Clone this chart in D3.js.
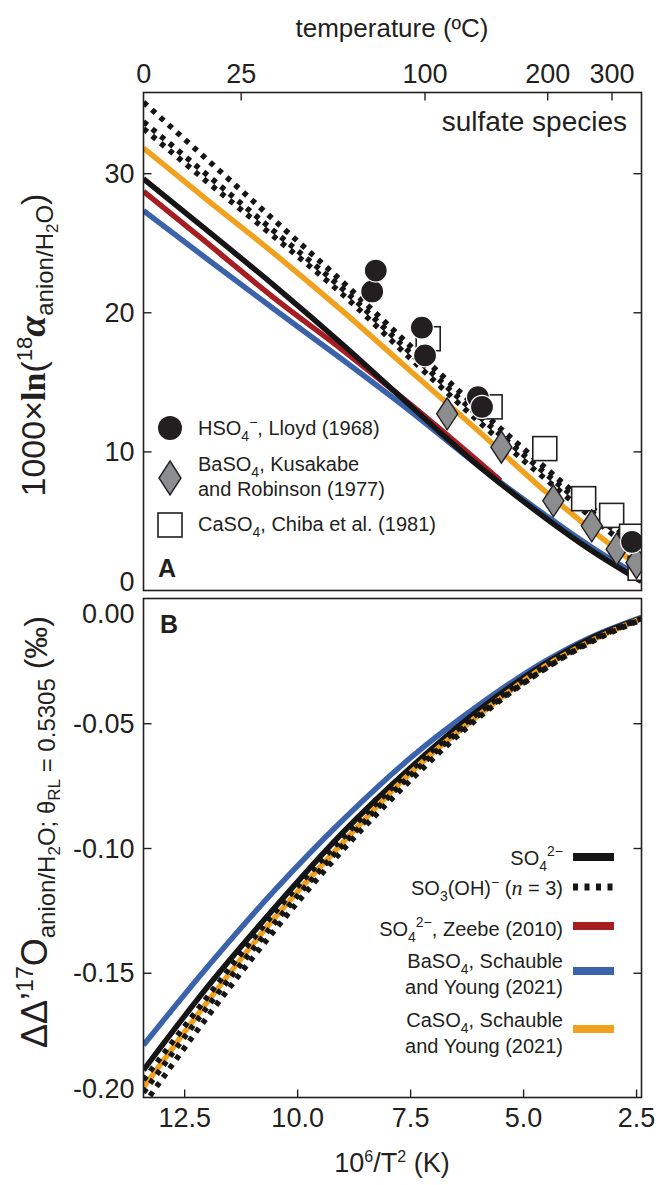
<!DOCTYPE html>
<html>
<head>
<meta charset="utf-8">
<script src="https://cdn.jsdelivr.net/npm/d3@7"></script>
<style>
  body { margin: 0; background: #fff; }
  svg { display: block; }
  text { font-family: "Liberation Sans", Arial, Helvetica, sans-serif; fill: #231f20; }
</style>
</head>
<body>
<svg id="chart" width="659" height="1185"></svg>
<script>
// x positions (10^6/T^2, K) at which the model curves are tabulated
const xGrid = [13.40, 12.0, 10.5, 9.0, 7.5, 6.0, 4.5, 3.5, 2.38];

// Panel A: 1000 ln(18-alpha anion/H2O)
const so4A      = [29.6, 25.9, 21.9, 17.7, 13.3, 9.0, 5.2, 2.9, 0.65];
const zeebeA    = [28.7, 25.0, 21.0, 17.3, 13.4, 9.3, 7.9];
const zeebeX    = [13.40, 12.0, 10.5, 9.0, 7.5, 6.0, 5.5];
const baso4A    = [27.3, 23.85, 20.2, 16.6, 12.9, 9.0, 5.4, 3.15, 0.95];
const caso4A    = [31.8, 28.1, 24.2, 20.1, 15.8, 11.5, 7.1, 4.4, 1.6];
const so3ohA1   = [35.1, 31.0, 26.6, 22.2, 17.6, 13.1, 8.8, 6.0, 3.0];
const so3ohA2   = [33.7, 29.9, 25.8, 21.7, 17.1, 12.6, 8.4, 5.7, 2.7];
const so3ohA3   = [33.2, 29.4, 25.4, 21.3, 16.7, 12.2, 8.0, 5.3, 2.4];

// Panel B: Delta'17O anion/H2O
const so4B      = [-0.189, -0.156, -0.124, -0.094, -0.068, -0.045, -0.026, -0.016, -0.008];
const baso4B    = [-0.179, -0.148, -0.117, -0.089, -0.064, -0.043, -0.025, -0.0155, -0.0075];
const caso4B    = [-0.196, -0.162, -0.128, -0.098, -0.070, -0.047, -0.027, -0.017, -0.008];
const so3ohB1   = [-0.193, -0.160, -0.126, -0.096, -0.069, -0.046, -0.027, -0.0165, -0.008];
const so3ohB2   = [-0.198, -0.164, -0.130, -0.099, -0.071, -0.047, -0.028, -0.017, -0.0083];
const so3ohB3   = [-0.203, -0.168, -0.133, -0.101, -0.073, -0.048, -0.028, -0.0175, -0.0085];

// Experimental calibrations (x = 10^6/T^2)
const lloydX    = [8.34, 8.26, 7.24, 7.17, 6.00, 5.91, 2.59];
const lloydY    = [21.5, 23.0, 18.9, 16.9, 13.9, 13.2, 3.5];
const kusakabeX = [6.68, 5.48, 4.33, 3.48, 2.93, 2.49];
const kusakabeY = [12.7, 10.3, 6.45, 4.65, 2.97, 2.0];
const chibaX    = [7.10, 5.73, 4.52, 3.66, 3.04, 2.60, 2.41];
const chibaY    = [18.1, 13.2, 10.2, 6.6, 5.4, 3.9, 1.6];

// Axis ticks
const tempTicks = [0, 25, 100, 200, 300];
const xTicks    = [12.5, 10.0, 7.5, 5.0, 2.5];
const yTicksA   = [0, 10, 20, 30];
const yTicksB   = [0, -0.05, -0.10, -0.15, -0.20];

const C = { black: "#151515", red: "#a61e22", blue: "#3a63ac", orange: "#f0a21f", ink: "#231f20", grey: "#8b8d8f" };
const SERIF = "'Liberation Serif', 'Times New Roman', serif";

const svg = d3.select("#chart");
const L = 143.5, R = 641.5;
const A = { top: 92.5, bottom: 590.5 };
const B = { top: 598.5, bottom: 1097.5 };

const x  = d3.scaleLinear().domain([13.40, 2.38]).range([L, R]);
const yA = d3.scaleLinear().domain([0, 35.8]).range([A.bottom, A.top]);
const yB = d3.scaleLinear().domain([-0.20, 0]).range([B.bottom, B.top]);

const defs = svg.append("defs");
defs.append("clipPath").attr("id", "clipA").append("rect")
  .attr("x", L).attr("y", A.top).attr("width", R - L).attr("height", A.bottom - A.top);
defs.append("clipPath").attr("id", "clipB").append("rect")
  .attr("x", L).attr("y", B.top).attr("width", R - L).attr("height", B.bottom - B.top);

function series(xs, ys) { return xs.map((v, i) => [v, ys[i]]); }

function drawCurve(g, y, xs, ys, color, dotted) {
  const line = d3.line().x(d => x(d[0])).y(d => y(d[1])).curve(d3.curveMonotoneX);
  g.append("path").datum(series(xs, ys))
    .attr("d", line)
    .attr("fill", "none")
    .attr("stroke", color)
    .attr("stroke-width", 5.5)
    .attr("stroke-dasharray", dotted ? "5 6.2" : null)
    .attr("stroke-linecap", "butt");
}

// ---------- Panel A ----------
const gA = svg.append("g").attr("clip-path", "url(#clipA)");
drawCurve(gA, yA, xGrid, baso4A, C.blue);
drawCurve(gA, yA, zeebeX, zeebeA, C.red);
drawCurve(gA, yA, xGrid, so4A, C.black);
drawCurve(gA, yA, xGrid, caso4A, C.orange);
drawCurve(gA, yA, xGrid, so3ohA1, C.black, true);
drawCurve(gA, yA, xGrid, so3ohA2, C.black, true);
drawCurve(gA, yA, xGrid, so3ohA3, C.black, true);

const sq = 24;
gA.selectAll("rect.chiba").data(series(chibaX, chibaY)).join("rect")
  .attr("x", d => x(d[0]) - sq / 2).attr("y", d => yA(d[1]) - sq / 2)
  .attr("width", sq).attr("height", sq)
  .attr("fill", "#fff").attr("stroke", C.ink).attr("stroke-width", 1.6);

const diamond = "M0,-16 L10.5,0 L0,16 L-10.5,0 Z";
gA.selectAll("path.kus").data(series(kusakabeX, kusakabeY)).join("path")
  .attr("d", diamond)
  .attr("transform", d => `translate(${x(d[0])},${yA(d[1])})`)
  .attr("fill", C.grey).attr("stroke", C.ink).attr("stroke-width", 1.4);

gA.selectAll("circle.lloyd").data(series(lloydX, lloydY)).join("circle")
  .attr("cx", d => x(d[0])).attr("cy", d => yA(d[1])).attr("r", 11.5)
  .attr("fill", C.ink).attr("stroke", "#fff").attr("stroke-width", 1.2);

// ---------- Panel B ----------
const gB = svg.append("g").attr("clip-path", "url(#clipB)");
drawCurve(gB, yB, xGrid, baso4B, C.blue);
drawCurve(gB, yB, xGrid, so4B, C.black);
drawCurve(gB, yB, xGrid, caso4B, C.orange);
drawCurve(gB, yB, xGrid, so3ohB1, C.black, true);
drawCurve(gB, yB, xGrid, so3ohB2, C.black, true);
drawCurve(gB, yB, xGrid, so3ohB3, C.black, true);

// ---------- Frames and axes ----------
[A, B].forEach(p => {
  svg.append("rect").attr("x", L).attr("y", p.top).attr("width", R - L).attr("height", p.bottom - p.top)
    .attr("fill", "none").attr("stroke", C.ink).attr("stroke-width", 1.6);
});

function styleAxis(g) {
  g.select(".domain").remove();
  g.selectAll(".tick line").attr("stroke", C.ink).attr("stroke-width", 1.4);
  g.selectAll(".tick text").attr("fill", C.ink).style("font-size", "27px");
}

// left axes with labels kept inside the frame at the ends
function leftAxis(y, ticks, fmt, panel) {
  const g = svg.append("g").attr("transform", `translate(${L},0)`)
    .call(d3.axisLeft(y).tickValues(ticks).tickFormat(fmt).tickSize(-8).tickPadding(9));
  styleAxis(g);
  g.selectAll(".tick").filter(d => y(d) <= panel.top + 1 || y(d) >= panel.bottom - 1).select("line").remove();
  g.selectAll(".tick text").attr("dy", null).attr("dominant-baseline", "central")
    .attr("y", d => {
      const yy = y(d);
      return Math.max(panel.top + 15, Math.min(panel.bottom - 9, yy)) - yy;
    });
}
leftAxis(yA, yTicksA, d3.format("d"), A);
leftAxis(yB, yTicksB, d => d3.format(".2f")(d).replace("−", "-"), B);

function rightTicks(y, ticks) {
  const g = svg.append("g").attr("transform", `translate(${R},0)`)
    .call(d3.axisRight(y).tickValues(ticks).tickSize(-8).tickFormat(""));
  styleAxis(g);
}
rightTicks(yA, [10, 20, 30]);
rightTicks(yB, [-0.05, -0.10, -0.15]);

// bottom axis of panel B
const gx = svg.append("g").attr("transform", `translate(0,${B.bottom})`)
  .call(d3.axisBottom(x).tickValues(xTicks).tickFormat(d3.format(".1f")).tickSize(-8).tickPadding(10));
styleAxis(gx);

// top temperature axis of panel A
const tempToX = t => 1e6 / Math.pow(t + 273.15, 2);
const gt = svg.append("g").attr("transform", `translate(0,${A.top})`)
  .call(d3.axisTop(x).tickValues(tempTicks.map(tempToX))
    .tickFormat((d, i) => tempTicks[i]).tickSize(-8).tickPadding(10));
styleAxis(gt);
gt.selectAll(".tick").filter((d, i) => i === 0).select("line").remove();

// ---------- Titles ----------
svg.append("text").attr("x", 392).attr("y", 37).attr("text-anchor", "middle")
  .style("font-size", "26px").text("temperature (ºC)");

const xt = svg.append("text").attr("x", 392).attr("y", 1172).attr("text-anchor", "middle").style("font-size", "27px");
xt.append("tspan").text("10");
xt.append("tspan").attr("dy", -10).style("font-size", "16px").text("6");
xt.append("tspan").attr("dy", 10).text("/T");
xt.append("tspan").attr("dy", -10).style("font-size", "16px").text("2");
xt.append("tspan").attr("dy", 10).text(" (K)");

svg.append("text").attr("x", 627).attr("y", 131).attr("text-anchor", "end")
  .style("font-size", "28px").text("sulfate species");

// y title, panel A
const ta = svg.append("text").attr("transform", "translate(45,345) rotate(-90)")
  .attr("text-anchor", "middle").style("font-size", "34px");
ta.append("tspan").text("1000×");
ta.append("tspan").style("font-family", SERIF).style("font-weight", "bold").text("ln");
ta.append("tspan").text("(");
ta.append("tspan").attr("dy", -13).style("font-size", "22px").text("18");
ta.append("tspan").attr("dy", 13).style("font-family", SERIF)
  .style("font-weight", "bold").style("font-style", "italic").style("font-size", "38px").text("α");
ta.append("tspan").attr("dy", 8).style("font-size", "24px").text("anion/H");
ta.append("tspan").attr("dy", 5).style("font-size", "17px").text("2");
ta.append("tspan").attr("dy", -5).style("font-size", "24px").text("O");
ta.append("tspan").attr("dy", -8).text(")");

// y title, panel B
const tb = svg.append("text").attr("transform", "translate(47,832) rotate(-90)")
  .attr("text-anchor", "middle").style("font-size", "36px");
tb.append("tspan").text("ΔΔ’");
tb.append("tspan").attr("dy", -14).style("font-size", "23px").text("17");
tb.append("tspan").attr("dy", 14).text("O");
tb.append("tspan").attr("dy", 8).style("font-size", "24px").text("anion/H");
tb.append("tspan").attr("dy", 5).style("font-size", "17px").text("2");
tb.append("tspan").attr("dy", -5).style("font-size", "24px").text("O; θ");
tb.append("tspan").attr("dy", 5).style("font-size", "17px").text("RL");
tb.append("tspan").attr("dy", -5).style("font-size", "24px").text(" = 0.5305");
tb.append("tspan").attr("dy", -8).style("font-size", "32px").text(" (‰)");

// panel letters
svg.append("text").attr("x", 158).attr("y", 577).style("font-size", "25px").style("font-weight", "bold").text("A");
svg.append("text").attr("x", 160).attr("y", 633).style("font-size", "25px").style("font-weight", "bold").text("B");

// ---------- Legend, panel A (data symbols) ----------
const lgA = svg.append("g").style("font-size", "20px");
lgA.append("circle").attr("cx", 170).attr("cy", 428).attr("r", 12).attr("fill", C.ink);
const t1 = lgA.append("text").attr("x", 198).attr("y", 435);
t1.append("tspan").text("HSO");
t1.append("tspan").attr("dy", 6).style("font-size", "14px").text("4");
t1.append("tspan").attr("dy", -14).style("font-size", "14px").text("−");
t1.append("tspan").attr("dy", 8).text(", Lloyd (1968)");

lgA.append("path").attr("d", "M0,-17 L11,0 L0,17 L-11,0 Z").attr("transform", "translate(170,478)")
  .attr("fill", C.grey).attr("stroke", C.ink).attr("stroke-width", 1.4);
const t2 = lgA.append("text").attr("x", 198).attr("y", 471);
t2.append("tspan").text("BaSO");
t2.append("tspan").attr("dy", 6).style("font-size", "14px").text("4");
t2.append("tspan").attr("dy", -6).text(", Kusakabe");
lgA.append("text").attr("x", 198).attr("y", 496).text("and Robinson (1977)");

lgA.append("rect").attr("x", 158).attr("y", 513).attr("width", 24).attr("height", 24)
  .attr("fill", "#fff").attr("stroke", C.ink).attr("stroke-width", 1.6);
const t3 = lgA.append("text").attr("x", 198).attr("y", 531);
t3.append("tspan").text("CaSO");
t3.append("tspan").attr("dy", 6).style("font-size", "14px").text("4");
t3.append("tspan").attr("dy", -6).text(", Chiba et al. (1981)");

// ---------- Legend, panel B (model curves) ----------
const lgB = svg.append("g").style("font-size", "20px");
const textRight = 563, swX = 573, swW = 41;

function swatch(yc, color, dotted) {
  if (dotted) {
    lgB.append("line").attr("x1", swX).attr("x2", swX + swW).attr("y1", yc).attr("y2", yc)
      .attr("stroke", C.black).attr("stroke-width", 7).attr("stroke-dasharray", "5 6.5");
  } else {
    lgB.append("rect").attr("x", swX).attr("y", yc - 4).attr("width", swW).attr("height", 8).attr("fill", color);
  }
}

let t = lgB.append("text").attr("x", textRight).attr("y", 865).attr("text-anchor", "end");
t.append("tspan").text("SO");
t.append("tspan").attr("dy", 6).style("font-size", "14px").text("4");
t.append("tspan").attr("dy", -15).style("font-size", "14px").text("2−");
swatch(857, C.black);

t = lgB.append("text").attr("x", textRight).attr("y", 895).attr("text-anchor", "end");
t.append("tspan").text("SO");
t.append("tspan").attr("dy", 6).style("font-size", "14px").text("3");
t.append("tspan").attr("dy", -6).text("(OH)");
t.append("tspan").attr("dy", -8).style("font-size", "14px").text("−");
t.append("tspan").attr("dy", 8).text(" (");
t.append("tspan").style("font-family", SERIF).style("font-style", "italic").style("font-size", "22px").text("n");
t.append("tspan").text(" = 3)");
swatch(887, C.black, true);

t = lgB.append("text").attr("x", textRight).attr("y", 936).attr("text-anchor", "end");
t.append("tspan").text("SO");
t.append("tspan").attr("dy", 6).style("font-size", "14px").text("4");
t.append("tspan").attr("dy", -15).style("font-size", "14px").text("2−");
t.append("tspan").attr("dy", 9).text(", Zeebe (2010)");
swatch(926, C.red);

t = lgB.append("text").attr("x", textRight).attr("y", 968).attr("text-anchor", "end");
t.append("tspan").text("BaSO");
t.append("tspan").attr("dy", 6).style("font-size", "14px").text("4");
t.append("tspan").attr("dy", -6).text(", Schauble");
lgB.append("text").attr("x", textRight).attr("y", 994).attr("text-anchor", "end").text("and Young (2021)");
swatch(971, C.blue);

t = lgB.append("text").attr("x", textRight).attr("y", 1027).attr("text-anchor", "end");
t.append("tspan").text("CaSO");
t.append("tspan").attr("dy", 6).style("font-size", "14px").text("4");
t.append("tspan").attr("dy", -6).text(", Schauble");
lgB.append("text").attr("x", textRight).attr("y", 1053).attr("text-anchor", "end").text("and Young (2021)");
swatch(1029, C.orange);
</script>
</body>
</html>
